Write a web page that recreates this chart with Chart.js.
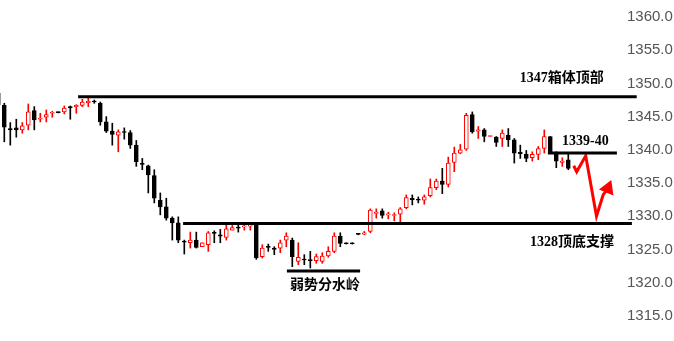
<!DOCTYPE html>
<html>
<head>
<meta charset="utf-8">
<script src="https://cdn.jsdelivr.net/npm/chart.js@4"></script>
<style>
  html, body { margin: 0; padding: 0; background: #fff; }
  #wrap { width: 674px; height: 341px; }
</style>
</head>
<body>
<div id="wrap"><canvas id="kChart"></canvas></div>
<script>
// candles, one per bar index
const opens  = [1348.5,1346.7,1343.2,1343.3,1343.0,1343.7,1345.9,1344.6,1344.9,1345.5,1345.65,1345.7,1346.5,1346.5,1346.7,1347.1,1347.3,1347.0,1344.2,1342.8,
                1342.2,1342.7,1342.6,1340.7,1337.9,1337.6,1336.1,1332.4,1331.4,1329.7,1329.0,1326.2,1326.0,1326.4,1325.4,1325.7,1327.5,1327.2,1326.8,1327.9,
                1328.3,1328.4,1328.5,1328.8,1323.9,1325.4,1325.2,1325.2,1326.4,1326.4,1323.2,1323.45,1323.4,1323.3,1323.2,1324.0,1324.7,1327.0,1325.95,1325.95,
                1327.35,1327.3,1327.7,1330.4,1330.8,1330.2,1330.1,1330.3,1331.3,1332.7,1332.5,1332.4,1333.1,1334.3,1335.3,1334.8,1338.1,1339.5,1340.1,1345.3,
                1342.8,1343.0,1342.0,1341.9,1341.7,1342.2,1341.5,1339.6,1339.3,1338.8,1339.3,1340.2,1342.0,1339.3,1338.1,1338.5];
const closes = [1346.8,1343.4,1343.0,1343.0,1343.6,1345.7,1344.5,1344.7,1345.3,1345.6,1345.6,1346.3,1346.3,1346.7,1347.2,1347.3,1347.2,1344.2,1342.8,1342.3,
                1342.7,1342.6,1340.7,1338.2,1337.8,1336.2,1332.7,1331.4,1329.7,1329.0,1326.4,1326.1,1326.4,1325.3,1326.0,1327.5,1327.4,1327.0,1328.1,1328.3,
                1328.2,1328.5,1328.6,1323.7,1325.2,1325.3,1325.0,1326.0,1327.0,1323.9,1323.8,1323.4,1323.3,1323.9,1324.0,1324.7,1327.0,1325.9,1325.85,1325.85,
                1327.25,1327.5,1330.9,1330.6,1330.1,1330.3,1330.2,1331.1,1332.8,1332.5,1332.4,1332.9,1334.3,1335.3,1334.8,1338.0,1339.5,1340.0,1345.2,1342.7,
                1343.0,1342.0,1342.1,1341.1,1342.5,1341.5,1339.5,1339.4,1338.7,1339.3,1340.2,1342.0,1339.7,1338.3,1338.3,1337.2];
const highs  = [1349.6,1347.0,1344.1,1344.6,1344.1,1346.9,1346.5,1345.5,1346.0,1345.8,1345.7,1346.6,1346.6,1346.8,1347.6,1347.8,1347.5,1347.2,1345.0,1344.0,
                1343.0,1343.3,1342.9,1341.4,1338.7,1337.7,1337.0,1333.5,1332.7,1329.9,1329.9,1326.4,1327.6,1327.6,1326.0,1327.7,1327.8,1328.0,1328.8,1328.6,
                1328.8,1328.8,1328.8,1328.9,1325.7,1325.8,1325.4,1326.4,1327.5,1326.7,1326.0,1324.2,1324.7,1324.3,1324.5,1325.4,1327.5,1327.5,1326.0,1326.0,
                1327.4,1327.7,1331.1,1331.1,1331.1,1330.6,1330.5,1331.3,1333.2,1333.2,1332.9,1333.2,1335.6,1335.6,1337.2,1338.9,1340.4,1340.8,1345.5,1345.7,
                1343.5,1343.2,1342.1,1342.0,1343.0,1343.2,1341.7,1340.7,1339.9,1339.7,1340.5,1343.0,1342.0,1339.7,1338.8,1339.5];
const lows   = [1346.0,1341.2,1340.7,1341.9,1342.5,1343.0,1343.0,1344.2,1344.2,1344.9,1345.55,1345.4,1344.6,1345.5,1346.5,1346.5,1347.0,1343.7,1342.6,1340.7,
                1339.7,1341.6,1340.2,1337.5,1337.0,1333.5,1332.0,1330.2,1329.4,1326.4,1326.0,1324.3,1325.2,1325.2,1325.4,1324.7,1326.0,1326.0,1326.4,1327.9,
                1327.6,1327.9,1327.9,1323.5,1323.7,1324.7,1324.2,1324.5,1325.4,1322.4,1322.7,1322.7,1322.2,1322.9,1322.9,1323.8,1324.5,1325.4,1325.8,1325.8,
                1327.2,1327.2,1327.5,1329.7,1329.7,1329.6,1329.3,1329.0,1331.1,1331.7,1332.0,1331.8,1332.9,1334.0,1333.4,1334.4,1336.7,1339.4,1339.9,1342.5,
                1341.7,1341.2,1342.0,1340.5,1340.5,1340.5,1338.0,1338.7,1338.2,1338.3,1338.5,1339.5,1339.5,1337.3,1337.5,1337.0];

// y axis ticks
const tickValues = [1315, 1320, 1325, 1330, 1335, 1340, 1345, 1350, 1355, 1360];

// horizontal marker lines: [fromIndex, toIndex, price]
const levelLines = [
  [13.3, 106.4, 1348.0],   // 1347 box top
  [30.8, 105.6, 1328.9],   // 1328 support
  [91.6, 103.1, 1339.5],   // 1339-40
  [48.1, 60.3, 1321.75]    // weak watershed
];

// hand drawn arrow path (index, price)
const arrowX = [95.9, 96.4, 97.9, 99.7, 100.8, 101.6];
const arrowY = [1337.6, 1336.7, 1339.1, 1330.0, 1333.2, 1334.2];

// text notes
const noteText = ['1347箱体顶部', '1339-40', '1328顶底支撑', '弱势分水岭'];
const noteX    = [86.9, 93.95, 88.6, 48.6];
const noteY    = [1350.8, 1341.3, 1326.1, 1319.6];

const RED = '#ff0000';
const idx = opens.map((_, i) => i);
const isUp = idx.map(i => closes[i] > opens[i]);

const wicks  = idx.map(i => ({ x: i, y: [lows[i], highs[i]] }));
const bodies = idx.map(i => ({ x: i, y: [opens[i], closes[i]] }));

const lineSets = levelLines.map(l => ({
  type: 'line',
  data: [{ x: l[0], y: l[2] }, { x: l[1], y: l[2] }],
  borderColor: '#000',
  borderWidth: 3,
  pointRadius: 0,
  clip: false,
  order: 0
}));

const notesPlugin = {
  id: 'notes',
  afterDatasetsDraw(chart) {
    const { ctx, scales: { x, y } } = chart;
    ctx.save();
    ctx.fillStyle = '#000';
    ctx.font = "bold 14px 'Liberation Serif', 'Noto Sans CJK SC', serif";
    ctx.textAlign = 'left';
    ctx.textBaseline = 'middle';
    noteText.forEach((t, i) => ctx.fillText(t, x.getPixelForValue(noteX[i]), y.getPixelForValue(noteY[i])));
    ctx.restore();
  }
};

new Chart(document.getElementById('kChart'), {
  type: 'bar',
  data: {
    datasets: [
      {
        data: wicks,
        backgroundColor: idx.map(i => isUp[i] ? RED : '#000'),
        barThickness: 1,
        grouped: false,
        order: 3
      },
      {
        data: bodies,
        backgroundColor: idx.map(i => isUp[i] ? '#fff' : '#000'),
        borderColor: idx.map(i => isUp[i] ? RED : '#000'),
        borderWidth: 1,
        borderSkipped: false,
        barThickness: 4,
        minBarLength: 1,
        grouped: false,
        order: 2
      },
      ...lineSets,
      {
        type: 'line',
        data: arrowX.map((v, i) => ({ x: v, y: arrowY[i] })),
        borderColor: RED,
        borderWidth: 3,
        pointRadius: arrowX.map((_, i) => i === arrowX.length - 1 ? 6 : 0),
        pointStyle: 'triangle',
        pointRotation: 22,
        pointBackgroundColor: RED,
        pointBorderColor: RED,
        clip: false,
        order: 1
      }
    ]
  },
  options: {
    responsive: true,
    maintainAspectRatio: false,
    animation: false,
    layout: { padding: 0, autoPadding: false },
    plugins: { legend: { display: false }, tooltip: { enabled: false } },
    scales: {
      x: {
        type: 'linear',
        display: false,
        offset: false,
        min: 0.2833,
        max: 103.95
      },
      y: {
        position: 'right',
        min: 1311.2,
        max: 1362.56,
        grid: { display: false, drawTicks: false },
        border: { display: false },
        afterFit: axis => {
          axis.width = 52;
          axis.paddingTop = 0;
          axis.paddingBottom = 0;
        },
        afterBuildTicks: axis => { axis.ticks = tickValues.map(v => ({ value: v })); },
        ticks: {
          padding: 5,
          color: '#555',
          font: { family: "'Liberation Sans', Arial, sans-serif", size: 15 },
          callback: v => v.toFixed(1)
        }
      }
    }
  },
  plugins: [notesPlugin]
});
</script>
</body>
</html>
